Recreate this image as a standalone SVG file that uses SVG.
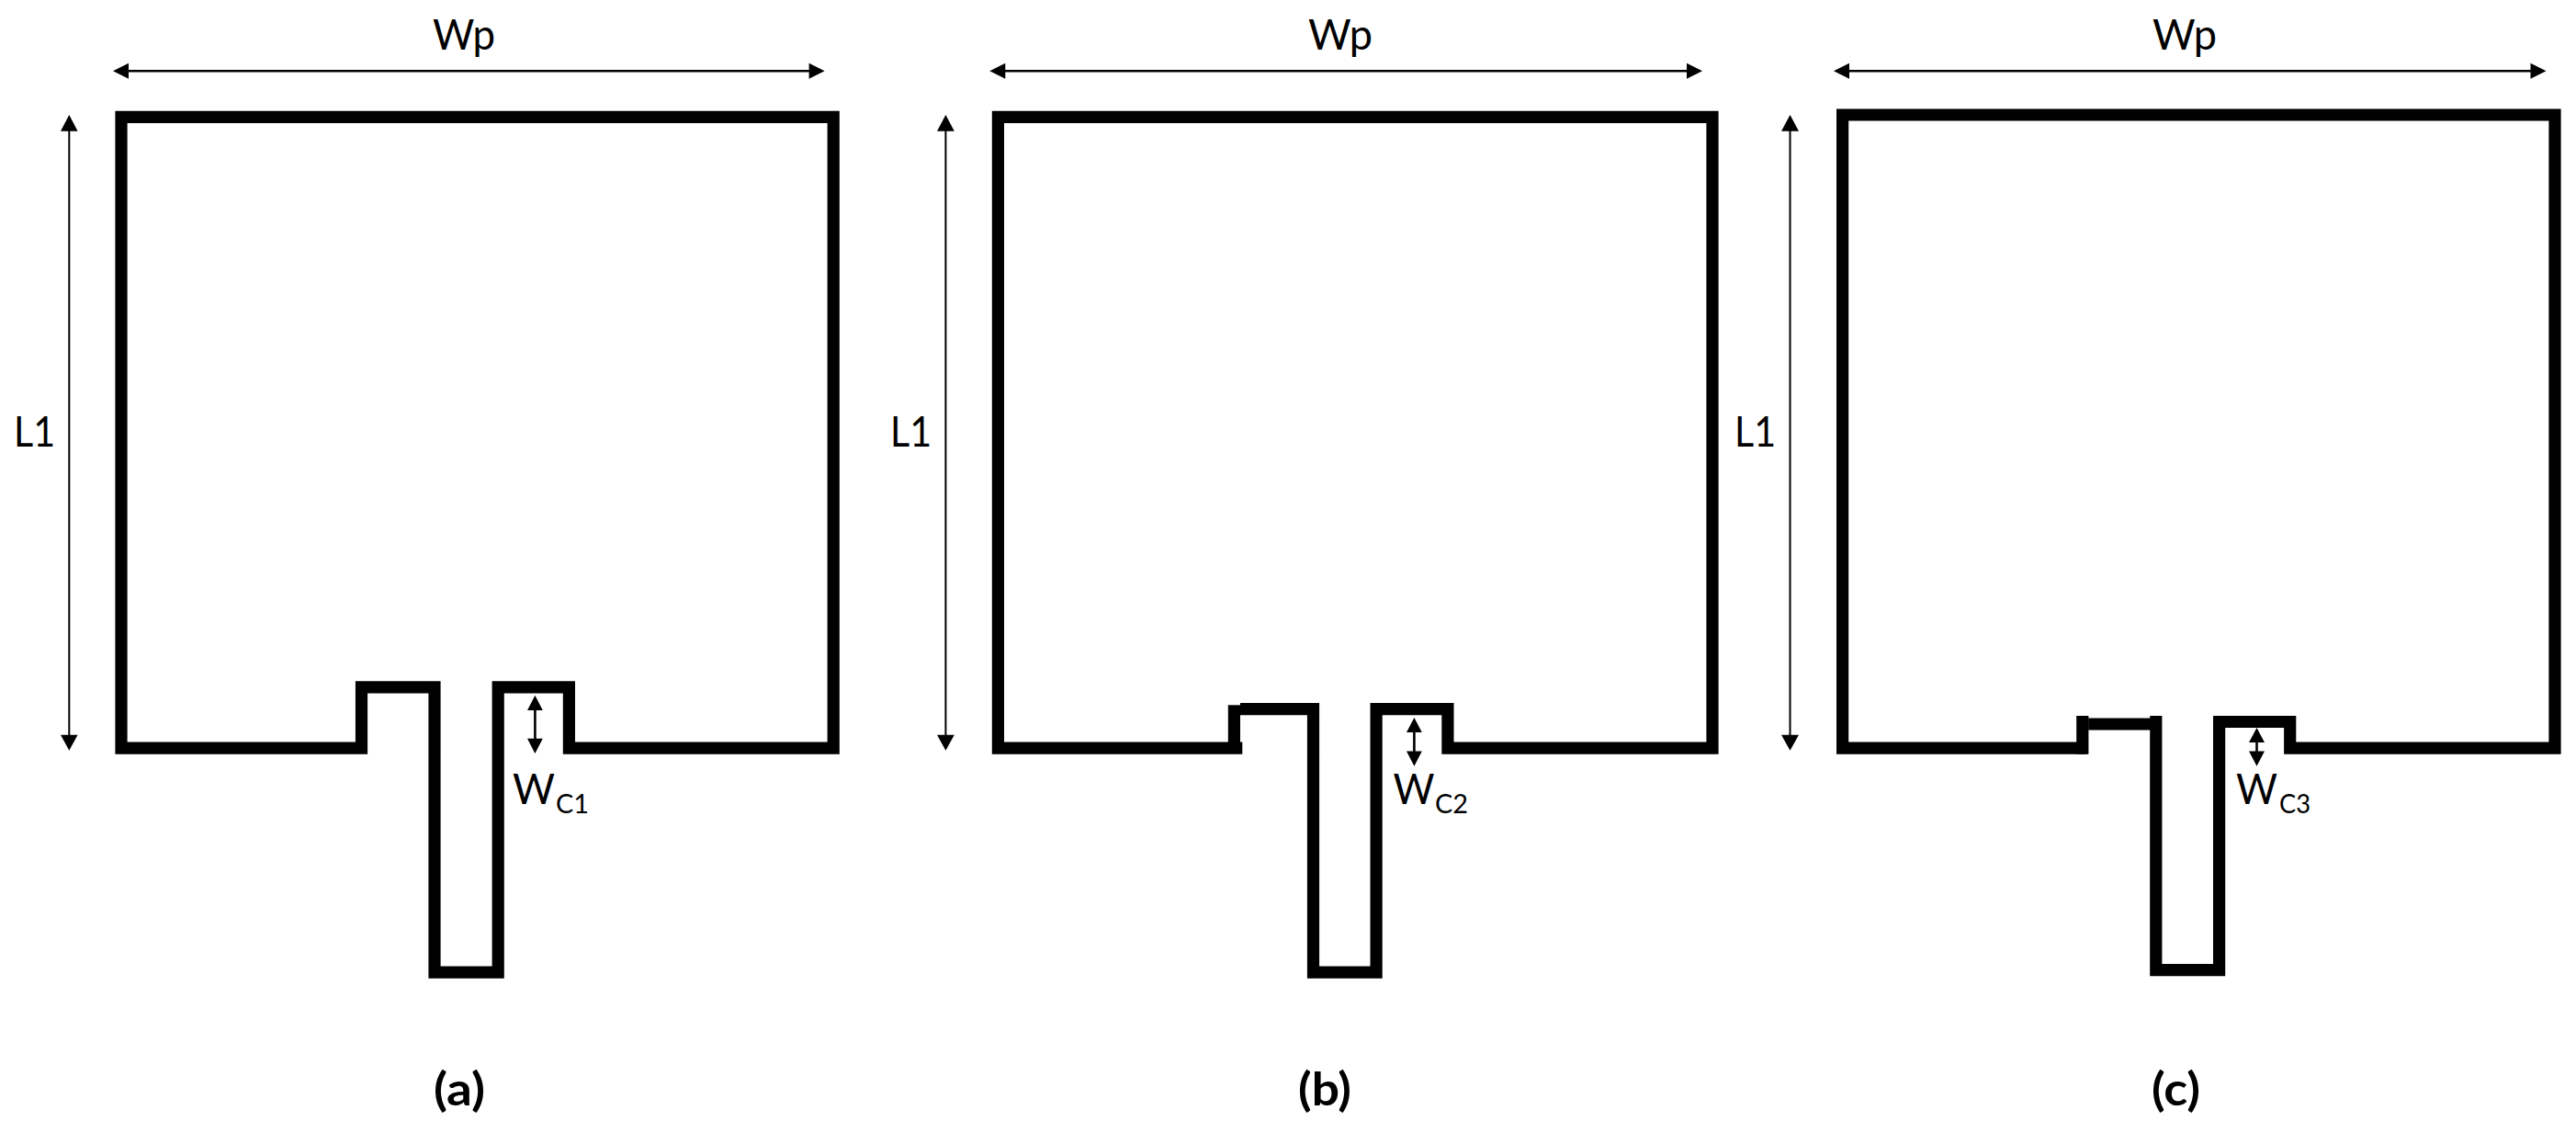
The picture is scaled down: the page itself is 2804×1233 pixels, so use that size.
<svg xmlns="http://www.w3.org/2000/svg" width="2804" height="1233" viewBox="0 0 2804 1233">
<style>
.ant{fill:none;stroke:#000;stroke-width:13.2;stroke-linejoin:miter;stroke-linecap:butt}
.dim{fill:none;stroke:#000;stroke-width:2.6}
.hd{fill:#000}
text{font-family:"Lato","Liberation Sans",sans-serif;fill:#000}
.lb{font-size:46px}
.sub{font-size:29px}
.cap{font-size:50px;font-weight:700}
</style>
<rect width="2804" height="1233" fill="#fff"/>
<g id="panel-a">
<path class="ant" d="M132 127.4H907.2V814.1H619.4V747.8H542.2V1058.1H473V747.8H393.5V814.1H132Z"/>
<text class="lb" x="471" y="54" textLength="68" lengthAdjust="spacingAndGlyphs">Wp</text>
<text class="lb" x="15" y="486" textLength="45" lengthAdjust="spacingAndGlyphs">L1</text>
<text class="lb" x="558" y="874.5" textLength="46" lengthAdjust="spacingAndGlyphs">W</text>
<text class="sub" x="605" y="885" textLength="36" lengthAdjust="spacingAndGlyphs">C1</text>
<text class="cap" x="472" y="1203" textLength="56" lengthAdjust="spacingAndGlyphs">(a)</text>
</g>
<g id="panel-b">
<path class="ant" d="M1352.3 814.1H1086.4V127.4H1864V814.1H1575.9V771.7H1498.1V1058.1H1429.5V771.7H1350"/>
<path class="ant" d="M1343.4 767.3V814.1"/>
<text class="lb" x="1424" y="54" textLength="70" lengthAdjust="spacingAndGlyphs">Wp</text>
<text class="lb" x="969" y="486" textLength="45" lengthAdjust="spacingAndGlyphs">L1</text>
<text class="lb" x="1516.5" y="874.5" textLength="45" lengthAdjust="spacingAndGlyphs">W</text>
<text class="sub" x="1562" y="885" textLength="36" lengthAdjust="spacingAndGlyphs">C2</text>
<text class="cap" x="1413" y="1203" textLength="58" lengthAdjust="spacingAndGlyphs">(b)</text>
</g>
<g id="panel-c">
<path class="ant" d="M2271.4 814.1H2005.6V125H2781V814.1H2492.7V785.5H2415.6V1055.7H2346.8V778.9"/>
<path class="ant" d="M2346.8 788H2273.5M2266.8 778.9V820.7"/>
<text class="lb" x="2343" y="54" textLength="70" lengthAdjust="spacingAndGlyphs">Wp</text>
<text class="lb" x="1888" y="486" textLength="45" lengthAdjust="spacingAndGlyphs">L1</text>
<text class="lb" x="2434" y="874.5" textLength="45" lengthAdjust="spacingAndGlyphs">W</text>
<text class="sub" x="2481" y="885" textLength="34" lengthAdjust="spacingAndGlyphs">C3</text>
<text class="cap" x="2342" y="1203" textLength="53" lengthAdjust="spacingAndGlyphs">(c)</text>
</g>
<g id="connectors">
<path class="dim" d="M135 77.3H885M1089 77.3H1841M2008 77.3H2759"/>
<path class="hd" d="M123 77.3L140 68.8V85.8ZM897.6 77.3L880.6 68.8V85.8ZM1077.3 77.3L1094.3 68.8V85.8ZM1853 77.3L1836 68.8V85.8ZM1996 77.3L2013 68.8V85.8ZM2771.5 77.3L2754.5 68.8V85.8Z"/>
<path class="dim" style="stroke-width:2" d="M75.3 135V805M1029.4 135V805M1948.5 135V805"/>
<path class="hd" d="M75.3 125L66 142.7H84.6ZM75.3 816.7L66 799.7H84.6ZM1029.4 125L1020 142.7H1038.8ZM1029.4 816.7L1020 799.7H1038.8ZM1948.5 125L1939 142.7H1958ZM1948.5 816.7L1939 799.7H1958Z"/>
<path class="dim" d="M582.4 765V812M1539.4 790V825M2456.5 800V825"/>
<path class="hd" d="M582.4 756.8L574 773H590.8ZM582.4 820L574 803.7H590.8ZM1539.4 781L1531 797H1547.8ZM1539.4 833.7L1531 817.5H1547.8ZM2456.5 792L2448 808H2465ZM2456.5 833.7L2448 817.5H2465Z"/>
</g>
</svg>
